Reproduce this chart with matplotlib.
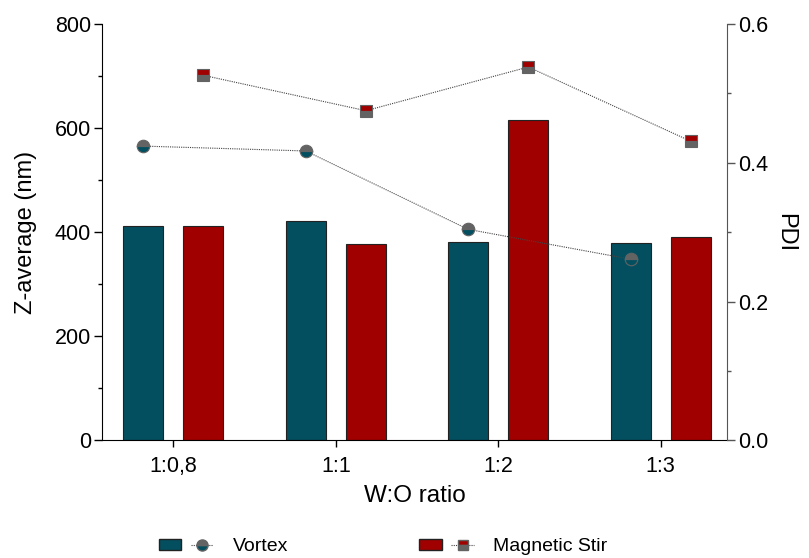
import numpy as np
import matplotlib.pyplot as plt
from matplotlib.patches import Patch
from matplotlib.lines import Line2D
from matplotlib.legend_handler import HandlerTuple
from matplotlib.ticker import MultipleLocator

plt.rcParams['font.family'] = ['Liberation Sans', 'DejaVu Sans']

ratios = ["1:0,8", "1:1", "1:2", "1:3"]
zavg_vortex = [411, 422, 381, 379]
zavg_stir = [411, 377, 615, 391]
pdi_vortex = [0.424, 0.417, 0.304, 0.261]
pdi_stir = [0.526, 0.475, 0.538, 0.431]

teal = "#034f5f"
red = "#a00000"
grey = "#636363"

fig = plt.figure(figsize=(8.09, 5.58), dpi=100)
ax = fig.add_axes([0.126, 0.211, 0.773, 0.746])
ax2 = ax.twinx()

x = np.arange(len(ratios))
w = 0.246
off = 0.185

ax.bar(x - off, zavg_vortex, w, color=teal, edgecolor="#222222", linewidth=0.8, zorder=2)
ax.bar(x + off, zavg_stir, w, color=red, edgecolor="#222222", linewidth=0.8, zorder=2)

ax2.plot(x - off, pdi_vortex, ls=(0, (1, 1)), color="#444444", lw=0.8,
         marker="o", ms=9, fillstyle="bottom", markerfacecolor=teal,
         markerfacecoloralt=grey, markeredgecolor=grey, markeredgewidth=0.8)
ax2.plot(x + off, pdi_stir, ls=(0, (1, 1)), color="#444444", lw=0.8,
         marker="s", ms=8.5, fillstyle="top", markerfacecolor=red,
         markerfacecoloralt=grey, markeredgecolor=grey, markeredgewidth=0.8)

ax.set_xlim(-0.44, 3.41)
ax.set_ylim(0, 800)
ax2.set_ylim(0, 0.6)

ax.yaxis.set_major_locator(MultipleLocator(200))
ax.yaxis.set_minor_locator(MultipleLocator(100))
ax2.yaxis.set_major_locator(MultipleLocator(0.2))
ax2.yaxis.set_minor_locator(MultipleLocator(0.1))
ax2.yaxis.set_major_formatter(plt.FuncFormatter(lambda v, p: f"{v:.1f}"))

ax.set_xticks(x)
ax.set_xticklabels(ratios)

for a in (ax, ax2):
    a.spines["top"].set_visible(False)
    a.tick_params(axis="both", which="major", direction="out", length=6, width=1,
                  labelsize=15.5, pad=2)
    a.tick_params(axis="both", which="minor", direction="out", length=3, width=1)
ax.tick_params(axis="x", length=5, pad=6)
ax.spines["right"].set_visible(False)
ax2.spines["left"].set_visible(False)
ax2.spines["bottom"].set_visible(False)
ax2.spines["right"].set_color("#555555")
ax2.tick_params(axis="y", which="both", colors="#555555", labelcolor="black")

ax.set_xlabel("W:O ratio", fontsize=17.5, labelpad=6)
ax.set_ylabel("Z-average (nm)", fontsize=17, labelpad=13)
ax2.set_ylabel("PDI", fontsize=17, rotation=270, labelpad=20)

# legend: bar swatch + marker per method
h_vortex = (Patch(facecolor=teal, edgecolor="#222222"),
            Line2D([], [], ls=(0, (1, 1)), color="#444444", lw=0.8, marker="o", ms=8,
                   fillstyle="bottom", markerfacecolor=teal, markerfacecoloralt=grey,
                   markeredgecolor=grey))
h_stir = (Patch(facecolor=red, edgecolor="#222222"),
          Line2D([], [], ls=(0, (1, 1)), color="#444444", lw=0.8, marker="s", ms=7.5,
                 fillstyle="top", markerfacecolor=red, markerfacecoloralt=grey,
                 markeredgecolor=grey))
fig.legend([h_vortex, h_stir], ["Vortex", "Magnetic Stir"],
           handler_map={tuple: HandlerTuple(ndivide=None, pad=0.5)},
           loc="center", bbox_to_anchor=(0.4735, 0.02), ncol=2, frameon=False,
           fontsize=14, handlelength=2.8, handleheight=0.55, handletextpad=1.0,
           columnspacing=6.75)

fig.savefig("out.png", dpi=100)
